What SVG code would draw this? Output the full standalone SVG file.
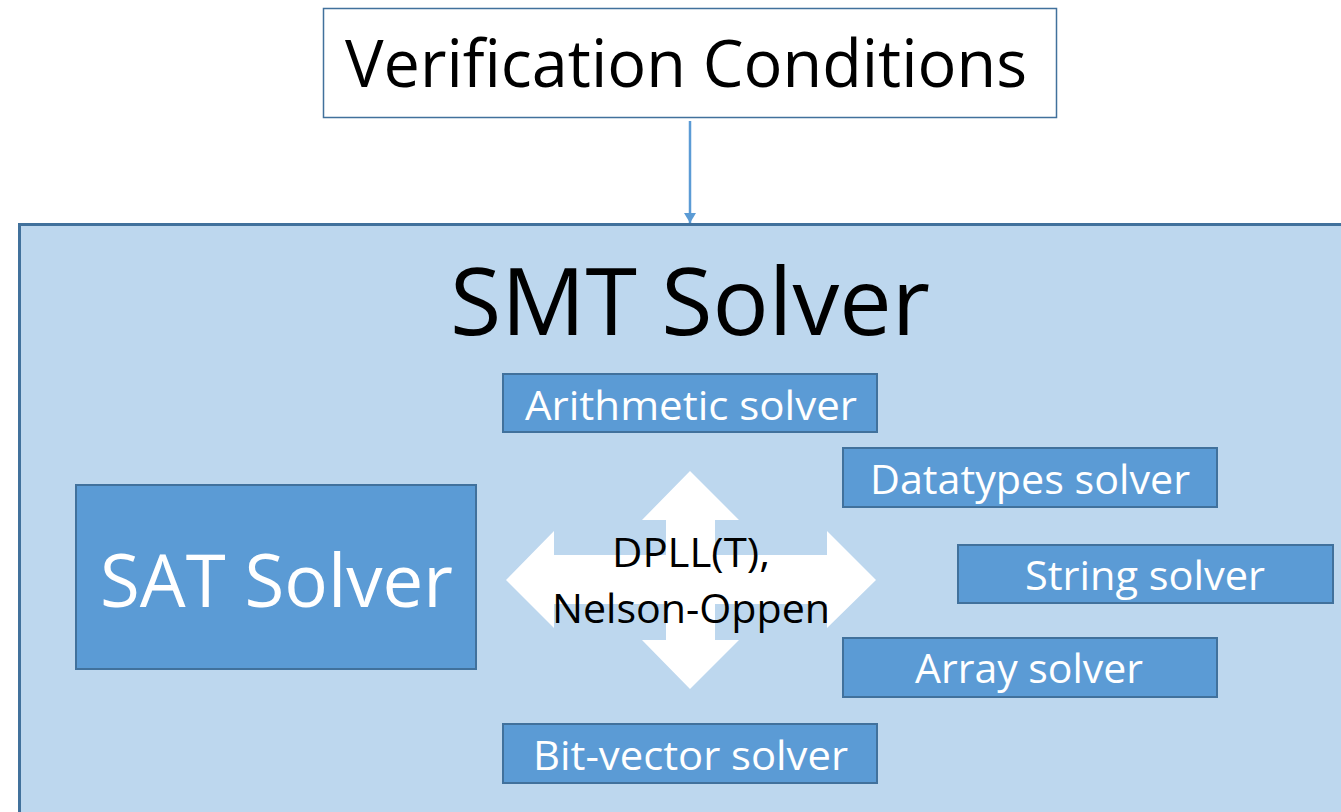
<svg xmlns="http://www.w3.org/2000/svg" width="1341" height="812" viewBox="0 0 1341 812">
  <defs>
    <style>
      .lbl { font-family: "Open Sans", "Noto Sans", "Liberation Sans", sans-serif; }
      .solver rect { fill: #5B9BD5; stroke: #41719C; stroke-width: 2; }
      .solver text { fill: #FFFFFF; font-size: 40px; text-anchor: start; }
      .dark { fill: #000000; }
    </style>
    <marker id="arrow" viewBox="0 0 10 12" refX="10" refY="6" markerWidth="14" markerHeight="12" markerUnits="userSpaceOnUse" orient="auto">
      <path d="M0,0 L10,6 L0,12 Z" fill="#5B9BD5"/>
    </marker>
  </defs>

  <rect width="1341" height="812" fill="#FFFFFF"/>

  <!-- SMT solver container -->
  <g id="smt-solver">
    <rect x="19.5" y="224.5" width="1340" height="600" fill="#BDD7EE" stroke="#41719C" stroke-width="3"/>
    <text class="lbl dark" x="450" y="335" font-size="94" textLength="480" lengthAdjust="spacingAndGlyphs">SMT Solver</text>
  </g>

  <!-- input node -->
  <g id="verification-conditions">
    <rect x="323.5" y="8.5" width="733" height="109" fill="#FFFFFF" stroke="#41719C" stroke-width="1.5"/>
    <text class="lbl dark" x="345" y="87" font-size="65" textLength="682" lengthAdjust="spacingAndGlyphs">Verification Conditions</text>
  </g>

  <!-- connectors -->
  <g id="connectors">
    <line x1="690" y1="121" x2="690" y2="223" stroke="#5B9BD5" stroke-width="2.5" marker-end="url(#arrow)"/>
  </g>

  <g id="sat-solver">
    <rect x="76" y="485" width="400" height="184" fill="#5B9BD5" stroke="#41719C" stroke-width="2"/>
    <text class="lbl" x="100" y="607" font-size="74" fill="#FFFFFF" textLength="353" lengthAdjust="spacingAndGlyphs">SAT Solver</text>
  </g>

  <!-- four-way combination arrow -->
  <g id="combination">
    <path d="M690,471 L739,520 L715,520 L715,555 L827,555 L827,531 L876,580 L827,628 L827,604 L715,604 L715,640 L739,640 L690,689 L642,640 L666,640 L666,604 L554,604 L554,628 L506,580 L554,531 L554,555 L666,555 L666,520 L642,520 Z" fill="#FFFFFF"/>
    <text class="lbl dark" x="612" y="567" font-size="41" textLength="158" lengthAdjust="spacingAndGlyphs">DPLL(T),</text>
    <text class="lbl dark" x="552" y="623" font-size="41" textLength="278" lengthAdjust="spacingAndGlyphs">Nelson-Oppen</text>
  </g>

  <g id="arithmetic-solver" class="solver">
    <rect x="503" y="374" width="374" height="58"/>
    <text class="lbl" x="525" y="420" textLength="332" lengthAdjust="spacingAndGlyphs">Arithmetic solver</text>
  </g>

  <g id="datatypes-solver" class="solver">
    <rect x="843" y="448" width="374" height="59"/>
    <text class="lbl" x="870" y="494" textLength="320" lengthAdjust="spacingAndGlyphs">Datatypes solver</text>
  </g>

  <g id="string-solver" class="solver">
    <rect x="958" y="545" width="375" height="58"/>
    <text class="lbl" x="1025" y="590" textLength="240" lengthAdjust="spacingAndGlyphs">String solver</text>
  </g>

  <g id="array-solver" class="solver">
    <rect x="843" y="638" width="374" height="59"/>
    <text class="lbl" x="915" y="683" textLength="228" lengthAdjust="spacingAndGlyphs">Array solver</text>
  </g>

  <g id="bitvector-solver" class="solver">
    <rect x="503" y="724" width="374" height="59"/>
    <text class="lbl" x="533" y="770" textLength="315" lengthAdjust="spacingAndGlyphs">Bit-vector solver</text>
  </g>
</svg>
